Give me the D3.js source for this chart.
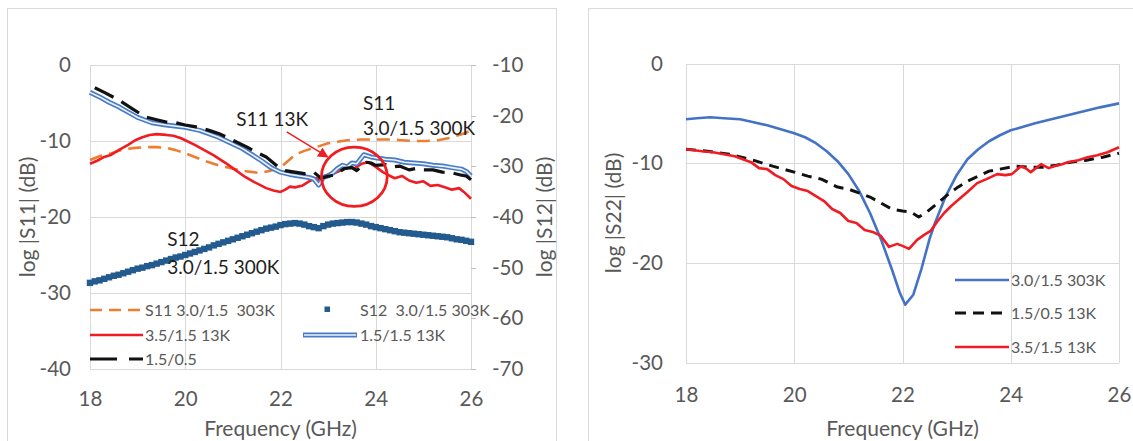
<!DOCTYPE html>
<html lang="en">
<head>
    <meta charset="UTF-8">
    <title>S-parameter plots</title>
    <script src="https://cdn.jsdelivr.net/npm/d3@7/dist/d3.min.js"></script>
    <style>
        body { margin: 0; background: #fff; }
        svg text { font-family: Lato, sans-serif; fill: #595959; white-space: pre; }
        .grid line { stroke: #d9d9d9; shape-rendering: crispEdges; }
        .frame { fill: none; stroke: #d9d9d9; shape-rendering: crispEdges; }
        .axis path { display: none; }
        .axis line { stroke: #bfbfbf; shape-rendering: crispEdges; }
        .axis text { font-size: 20.5px; }
        .title { font-size: 21px; }
        .legend text { font-size: 16px; }
        .note { fill: #1e1e1e !important; font-size: 19px; }
    </style>
</head>
<body>
<script>
    //tick values
    var freqTicks = [18, 20, 22, 24, 26];
    var s11Ticks = [0, -10, -20, -30, -40];
    var s12Ticks = [-10, -20, -30, -40, -50, -60, -70];
    var s22Ticks = [0, -10, -20, -30];

    //left chart, |S11| in dB, [GHz, dB]
    var s11_303K = [[18, -12.5], [18.2, -12.0], [18.45, -11.6], [18.7, -11.1], [18.95, -10.9], [19.2, -10.8],
        [19.4, -10.8], [19.6, -10.9], [19.8, -11.2], [20.0, -11.6], [20.2, -12.1], [20.45, -12.7], [20.7, -13.2],
        [20.9, -13.5], [21.1, -13.8], [21.3, -14.0], [21.55, -14.2], [21.8, -13.9], [22.05, -13.2], [22.2, -12.4],
        [22.3, -11.8], [22.5, -11.3], [22.7, -10.9], [23.0, -10.3], [23.2, -10.1], [23.4, -9.9], [23.7, -9.8],
        [24.0, -9.8], [24.3, -9.8], [24.55, -9.9], [24.8, -10.0], [25.05, -10.0], [25.3, -9.9], [25.55, -9.6],
        [25.75, -9.2], [25.9, -8.9], [26.0, -8.6]];

    var s11_35_13K = [[18.0, -13.0], [18.15, -12.6], [18.3, -12.1], [18.45, -11.8], [18.6, -11.2], [18.8, -10.5],
        [18.95, -9.9], [19.1, -9.5], [19.25, -9.2], [19.4, -9.1], [19.6, -9.2], [19.75, -9.3], [19.9, -9.6],
        [20.0, -9.9], [20.2, -10.5], [20.4, -11.2], [20.6, -11.9], [20.85, -12.9], [21.05, -13.8], [21.25, -14.7],
        [21.45, -15.4], [21.7, -16.2], [21.85, -16.5], [22.0, -16.7], [22.1, -16.4], [22.2, -16.0], [22.3, -16.1],
        [22.45, -15.9], [22.6, -15.3], [22.75, -14.9], [22.85, -15.2], [22.95, -14.5], [23.1, -14.3], [23.3, -13.8],
        [23.45, -13.3], [23.55, -13.6], [23.7, -13.0], [23.85, -12.8], [24.0, -13.4], [24.15, -14.1], [24.3, -14.6],
        [24.4, -14.9], [24.55, -14.6], [24.7, -15.2], [24.85, -15.5], [25.0, -15.3], [25.15, -15.9], [25.3, -15.8],
        [25.45, -16.1], [25.6, -16.4], [25.75, -16.2], [25.85, -16.7], [26.0, -17.6]];

    var s11_15_13K = [[18.0, -3.6], [18.2, -4.2], [18.4, -4.9], [18.6, -5.5], [18.8, -6.2], [19.0, -6.9],
        [19.3, -7.6], [19.6, -7.9], [20.0, -8.2], [20.3, -8.6], [20.7, -9.5], [21.0, -10.4], [21.2, -11.0],
        [21.4, -11.8], [21.6, -12.6], [21.8, -13.5], [22.0, -14.1], [22.2, -14.4], [22.4, -14.6], [22.6, -14.8],
        [22.7, -15.0], [22.8, -15.8], [22.9, -14.8], [23.0, -14.6], [23.1, -14.2], [23.2, -13.6], [23.3, -13.2],
        [23.4, -13.4], [23.5, -12.9], [23.6, -13.0], [23.75, -11.8], [23.9, -12.1], [24.0, -12.2], [24.2, -12.4],
        [24.4, -12.5], [24.6, -12.8], [24.8, -12.9], [25.0, -13.0], [25.2, -13.2], [25.4, -13.3], [25.6, -13.5],
        [25.8, -13.7], [25.9, -14.0], [26.0, -14.6]];

    var s11_15_05 = [[18.1, -3.0], [18.3, -3.6], [18.6, -4.6], [18.9, -5.8], [19.15, -6.8], [19.4, -7.2],
        [19.6, -7.5], [19.8, -7.6], [20.0, -7.9], [20.2, -8.1], [20.5, -8.6], [20.7, -9.0], [21.0, -9.9],
        [21.3, -10.8], [21.5, -11.5], [21.7, -12.1], [21.95, -13.4], [22.1, -13.9], [22.3, -14.1], [22.5, -14.3],
        [22.7, -14.1], [22.85, -14.9], [22.95, -14.7], [23.1, -14.5], [23.2, -14.2], [23.35, -13.6], [23.5, -13.5],
        [23.6, -13.9], [23.8, -12.8], [23.9, -12.9], [24.0, -13.2], [24.2, -13.1], [24.35, -13.4], [24.5, -13.3],
        [24.7, -13.8], [24.85, -13.6], [25.0, -13.8], [25.2, -13.8], [25.4, -14.1], [25.6, -14.2], [25.8, -14.5],
        [25.9, -14.6], [26.0, -15.1]];

    //|S12| 303K, one marker every 0.1 GHz starting at 18 GHz (right axis)
    var s12Start = 18;
    var s12Step = 0.1;
    var s12_303K = [-53.0, -52.7, -52.5, -52.2, -51.9, -51.6, -51.4, -51.1, -50.8, -50.5,
        -50.2, -50.0, -49.7, -49.5, -49.2, -48.9, -48.6, -48.3, -48.0, -47.8,
        -47.5, -47.2, -46.9, -46.6, -46.3, -46.0, -45.6, -45.3, -45.0, -44.7,
        -44.4, -44.1, -43.8, -43.5, -43.2, -42.9, -42.6, -42.3, -42.1, -41.9,
        -41.6, -41.4, -41.3, -41.2, -41.3, -41.5, -41.8, -42.0, -42.2, -41.8,
        -41.5, -41.3, -41.2, -41.1, -41.0, -41.0, -41.1, -41.3, -41.5, -41.8,
        -42.0, -42.2, -42.4, -42.6, -42.8, -43.0, -43.1, -43.2, -43.3, -43.4,
        -43.5, -43.6, -43.7, -43.8, -43.9, -44.0, -44.2, -44.4, -44.5, -44.7, -44.9];

    //right chart, |S22| in dB
    var s22_303K = [[18, -5.6], [18.2, -5.5], [18.45, -5.4], [18.7, -5.5], [19.0, -5.6], [19.25, -5.9],
        [19.5, -6.2], [19.75, -6.6], [20.0, -7.0], [20.2, -7.4], [20.4, -8.0], [20.6, -8.8], [20.8, -9.8],
        [21.0, -11.1], [21.2, -12.8], [21.4, -15.0], [21.6, -17.6], [21.8, -20.6], [21.95, -23.0], [22.05, -24.2],
        [22.2, -23.2], [22.35, -20.6], [22.5, -17.6], [22.6, -16.0], [22.8, -13.3], [23.0, -11.2], [23.2, -9.6],
        [23.4, -8.6], [23.6, -7.8], [23.8, -7.2], [24.0, -6.7], [24.2, -6.4], [24.45, -6.0], [24.75, -5.6],
        [25.05, -5.2], [25.35, -4.8], [25.65, -4.4], [26.0, -4.0]];

    var s22_15_05 = [[18, -8.6], [18.4, -8.8], [18.8, -9.1], [19.1, -9.5], [19.3, -9.8], [19.6, -10.3],
        [20.0, -10.9], [20.25, -11.3], [20.5, -11.6], [20.8, -12.4], [21.0, -12.6], [21.25, -13.1], [21.4, -13.4],
        [21.6, -14.0], [21.8, -14.6], [22.0, -14.8], [22.15, -14.9], [22.3, -15.4], [22.45, -14.9], [22.65, -14.0],
        [22.85, -13.1], [23.0, -12.5], [23.2, -11.8], [23.4, -11.3], [23.6, -10.8], [23.8, -10.6], [24.1, -10.3],
        [24.35, -10.4], [24.6, -10.4], [24.85, -10.2], [25.1, -9.9], [25.4, -9.7], [25.7, -9.4], [26.0, -9.0]];

    var s22_35_13K = [[18, -8.6], [18.15, -8.7], [18.3, -8.8], [18.5, -8.9], [18.7, -9.1], [18.9, -9.3],
        [19.05, -9.6], [19.2, -9.9], [19.35, -10.5], [19.5, -10.6], [19.65, -11.2], [19.8, -11.6], [19.95, -12.3],
        [20.1, -12.6], [20.25, -12.8], [20.4, -13.3], [20.55, -13.8], [20.7, -14.6], [20.85, -15.0], [21.0, -15.8],
        [21.15, -16.0], [21.3, -16.7], [21.45, -16.9], [21.6, -17.3], [21.75, -18.4], [21.9, -18.1], [22.0, -18.3],
        [22.12, -18.6], [22.27, -17.7], [22.4, -17.2], [22.52, -16.8], [22.65, -15.8], [22.77, -15.0], [22.9, -14.3],
        [23.07, -13.5], [23.2, -12.9], [23.38, -12.0], [23.55, -11.6], [23.75, -11.1], [23.9, -11.2], [24.02, -11.1],
        [24.19, -10.3], [24.3, -10.6], [24.37, -10.9], [24.56, -10.1], [24.7, -10.5], [24.8, -10.3], [24.95, -10.1],
        [25.05, -9.9], [25.25, -9.7], [25.42, -9.4], [25.6, -9.2], [25.79, -8.9], [26.0, -8.4]];

    var w = 1133;
    var h = 441;

    var svg = d3.select('body')
                .append('svg')
                .attr('width', w)
                .attr('height', h);

    //arrow head for the annotation
    svg.append('defs')
        .append('marker')
        .attr('id', 'head')
        .attr('viewBox', '0 0 10 10')
        .attr('refX', 9)
        .attr('refY', 5)
        .attr('markerWidth', 7)
        .attr('markerHeight', 7)
        .attr('orient', 'auto')
        .append('path')
        .attr('d', 'M0,0L10,5L0,10z')
        .attr('fill', '#ee1d23');

    //chart frames
    svg.append('rect').attr('class', 'frame').attr('x', 7.5).attr('y', 8.5).attr('width', 549).attr('height', 450);
    svg.append('rect').attr('class', 'frame').attr('x', 588.5).attr('y', 8.5).attr('width', 560).attr('height', 450);

    //scales
    var xL = d3.scaleLinear().domain([18, 26]).range([90, 471]);
    var yL = d3.scaleLinear().domain([-40, 0]).range([369, 65]);
    var yL2 = d3.scaleLinear().domain([-70, -10]).range([369, 65]);

    var xR = d3.scaleLinear().domain([18, 26]).range([686, 1119]);
    var yR = d3.scaleLinear().domain([-30, 0]).range([362.5, 63.5]);

    //plain hyphen for negative labels, like the original
    var fmt = function(d) { return String(d); };

    //gridlines
    function grid(x, y, xt, yt) {
        var g = svg.append('g').attr('class', 'grid');
        g.selectAll('line.v').data(xt).enter().append('line')
            .attr('x1', function(d) { return Math.round(x(d)) + 0.5; })
            .attr('x2', function(d) { return Math.round(x(d)) + 0.5; })
            .attr('y1', y.range()[0]).attr('y2', y.range()[1]);
        g.selectAll('line.h').data(yt).enter().append('line')
            .attr('y1', function(d) { return Math.round(y(d)) + 0.5; })
            .attr('y2', function(d) { return Math.round(y(d)) + 0.5; })
            .attr('x1', x.range()[0]).attr('x2', x.range()[1]);
    }
    grid(xL, yL, freqTicks, s11Ticks);
    grid(xR, yR, freqTicks, s22Ticks);

    //axes
    svg.append('g').attr('class', 'axis')
        .attr('transform', 'translate(0,' + yL.range()[0] + ')')
        .call(d3.axisBottom(xL).tickValues(freqTicks).tickFormat(fmt).tickSize(0).tickPadding(22));
    svg.append('g').attr('class', 'axis')
        .attr('transform', 'translate(' + xL.range()[0] + ',0)')
        .call(d3.axisLeft(yL).tickValues(s11Ticks).tickFormat(fmt).tickSize(0).tickPadding(19));
    svg.append('g').attr('class', 'axis')
        .attr('transform', 'translate(' + xL.range()[1] + ',0)')
        .call(d3.axisRight(yL2).tickValues(s12Ticks).tickFormat(fmt).tickSize(5).tickPadding(16));

    svg.append('g').attr('class', 'axis')
        .attr('transform', 'translate(0,' + yR.range()[0] + ')')
        .call(d3.axisBottom(xR).tickValues(freqTicks).tickFormat(fmt).tickSize(0).tickPadding(25));
    svg.append('g').attr('class', 'axis')
        .attr('transform', 'translate(' + xR.range()[0] + ',0)')
        .call(d3.axisLeft(yR).tickValues(s22Ticks).tickFormat(fmt).tickSize(0).tickPadding(23));

    //axis titles
    function title(txt, x, y, rot) {
        svg.append('text').attr('class', 'title')
            .attr('transform', 'translate(' + x + ',' + y + ')' + (rot ? ' rotate(-90)' : ''))
            .attr('text-anchor', 'middle')
            .attr('dy', '0.35em')
            .text(txt);
    }
    title('Frequency (GHz)', (xL.range()[0] + xL.range()[1]) / 2, 429, false);
    title('log |S11| (dB)', 28, (yL.range()[0] + yL.range()[1]) / 2, true);
    title('log |S12| (dB)', 545, (yL.range()[0] + yL.range()[1]) / 2, true);
    title('Frequency (GHz)', (xR.range()[0] + xR.range()[1]) / 2, 429, false);
    title('log |S22| (dB)', 614, (yR.range()[0] + yR.range()[1]) / 2, true);

    //line helpers
    function drawLine(x, y, data, color, width, dash) {
        var line = d3.line()
                    .x(function(d) { return x(d[0]); })
                    .y(function(d) { return y(d[1]); });
        svg.append('path')
            .datum(data)
            .attr('d', line)
            .attr('fill', 'none')
            .attr('stroke', color)
            .attr('stroke-width', width)
            .attr('stroke-linejoin', 'round')
            .attr('stroke-dasharray', dash || null);
    }

    //left chart series
    drawLine(xL, yL, s11_303K, '#ed7d31', 2.6, '13,7');
    drawLine(xL, yL, s11_35_13K, '#f01c22', 2.6);
    drawLine(xL, yL, s11_15_13K, '#4a7cc6', 5);
    drawLine(xL, yL, s11_15_13K, '#eef3fb', 1.6);
    drawLine(xL, yL, s11_15_05, '#111', 3.2, '21,9');

    svg.append('g')
        .selectAll('rect')
        .data(s12_303K)
        .enter()
        .append('rect')
        .attr('x', function(d, i) { return xL(s12Start + i * s12Step) - 3.2; })
        .attr('y', function(d) { return yL2(d) - 3.2; })
        .attr('width', 6.4)
        .attr('height', 6.4)
        .attr('fill', '#245b8f');

    //right chart series
    drawLine(xR, yR, s22_303K, '#4472c4', 2.6);
    drawLine(xR, yR, s22_15_05, '#111', 3, '10,7');
    drawLine(xR, yR, s22_35_13K, '#f01c22', 2.6);

    //legends
    var legL = svg.append('g').attr('class', 'legend');
    function legLine(g, x1, x2, y, color, width, dash) {
        g.append('line').attr('x1', x1).attr('x2', x2).attr('y1', y).attr('y2', y)
            .attr('stroke', color).attr('stroke-width', width).attr('stroke-dasharray', dash || null);
    }
    function legText(g, x, y, txt) {
        g.append('text').attr('x', x).attr('y', y).attr('dy', '0.35em').text(txt);
    }
    legLine(legL, 90, 143, 310, '#ed7d31', 2.6, '12,7');
    legText(legL, 145, 310, 'S11 3.0/1.5  303K');
    legL.append('rect').attr('x', 324.5).attr('y', 306.5).attr('width', 5.5).attr('height', 5.5).attr('fill', '#245b8f');
    legText(legL, 360, 310, 'S12  3.0/1.5 303K');
    legLine(legL, 90, 143, 335, '#f01c22', 2.6);
    legText(legL, 145, 335, '3.5/1.5 13K');
    legLine(legL, 303, 357, 335, '#4a7cc6', 5);
    legLine(legL, 304, 356, 335, '#eef3fb', 1.6);
    legText(legL, 360, 335, '1.5/1.5 13K');
    legLine(legL, 90, 143, 359, '#111', 3.2, '27,12');
    legText(legL, 145, 359, '1.5/0.5');

    var legR = svg.append('g').attr('class', 'legend');
    legLine(legR, 955, 1009, 280, '#4472c4', 2.6);
    legText(legR, 1011, 280, '3.0/1.5 303K');
    legLine(legR, 955, 1009, 313, '#111', 3, '11,7');
    legText(legR, 1011, 313, '1.5/0.5 13K');
    legLine(legR, 955, 1009, 347, '#f01c22', 2.6);
    legText(legR, 1011, 347, '3.5/1.5 13K');

    //annotations on the left chart, placed in data units
    function note(f, v, txt) {
        svg.append('text').attr('class', 'note')
            .attr('x', xL(f)).attr('y', yL(v)).attr('dy', '0.35em').text(txt);
    }
    note(21.07, -7.2, 'S11 13K');
    note(23.73, -5.0, 'S11');
    note(23.73, -8.3, '3.0/1.5 300K');
    note(19.62, -23.0, 'S12');
    note(19.62, -26.6, '3.0/1.5 300K');

    svg.append('line')
        .attr('x1', xL(22.13)).attr('y1', yL(-8.8))
        .attr('x2', xL(22.99)).attr('y2', yL(-12.1))
        .attr('stroke', '#f01c22')
        .attr('stroke-width', 1.5)
        .attr('marker-end', 'url(#head)');

    svg.append('ellipse')
        .attr('cx', xL(23.55)).attr('cy', yL(-14.7))
        .attr('rx', xL(23.55 + 0.69) - xL(23.55))
        .attr('ry', yL(-14.7) - yL(-14.7 + 3.9))
        .attr('fill', 'none')
        .attr('stroke', '#f01c22')
        .attr('stroke-width', 2.8);
</script>
</body>
</html>
